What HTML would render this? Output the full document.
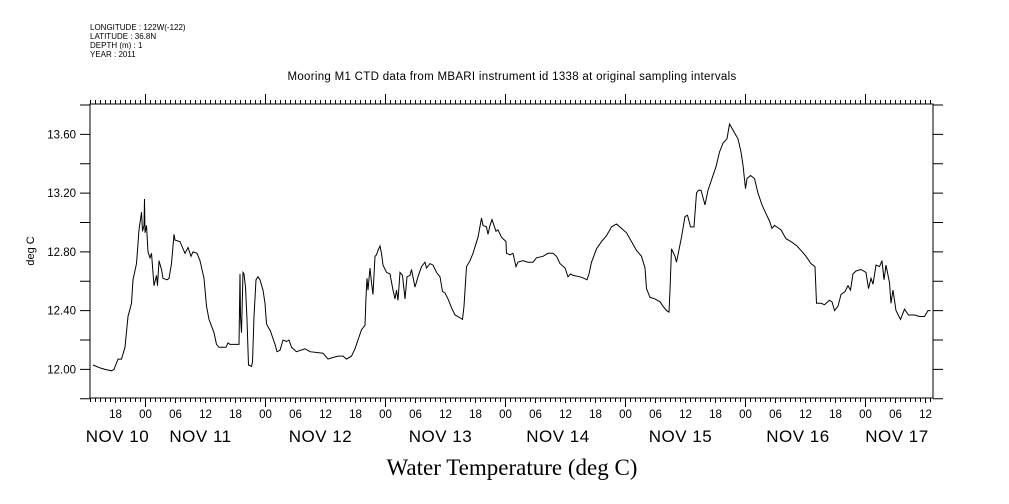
<!DOCTYPE html>
<html><head><meta charset="utf-8">
<style>
body{margin:0;background:#fff;}
svg{display:block;font-family:"Liberation Sans",sans-serif;}
</style></head><body>
<svg id="chart" width="1009" height="504" xmlns="http://www.w3.org/2000/svg">
<rect width="1009" height="504" fill="#fff"/>
<g font-size="8" fill="#000">
<text x="90" y="30">LONGITUDE : 122W(-122)</text>
<text x="90" y="39">LATITUDE : 36.8N</text>
<text x="90" y="48">DEPTH (m) : 1</text>
<text x="90" y="57">YEAR : 2011</text>
</g>
<text x="512" y="80" font-size="11.5" text-anchor="middle" letter-spacing="0.3">Mooring M1 CTD data from MBARI instrument id 1338 at original sampling intervals</text>
<text transform="translate(34,251) rotate(-90)" font-size="11" text-anchor="middle">deg C</text>
<text x="512" y="475" font-size="23" text-anchor="middle" font-family="'Liberation Serif',serif">Water Temperature (deg C)</text>
<g id="axes"></g>
<g id="series"></g>
</svg>
<script>
const hours=[-10.5,-9.1,-8.1,-6.8,-6.3,-5.5,-4.8,-4.1,-3.5,-2.8,-2.5,-1.8,-1.3,-0.8,-0.6,-0.3,-0.2,-0.1,0.2,0.5,0.9,1.2,1.7,2.2,2.4,2.7,3.2,3.5,4.3,4.7,5.2,5.7,5.9,6.9,7.9,8.5,9.1,9.5,10.3,10.9,11.7,12.2,12.7,13.7,14.2,14.7,16.1,16.5,16.9,18.7,18.9,19.0,19.2,19.5,19.7,20.0,20.3,20.6,21.2,21.4,21.7,22.1,22.5,22.9,23.5,23.9,24.2,24.5,25.0,25.4,25.9,26.3,26.9,27.5,28.2,28.7,29.2,30.2,31.9,32.9,35.5,36.5,37.4,38.5,39.5,40.2,41.2,41.9,42.5,43.2,43.9,44.1,44.3,44.5,44.9,45.2,45.5,45.9,46.2,46.5,46.9,47.2,47.5,48.2,48.9,49.5,49.9,50.2,50.5,50.9,51.4,51.9,52.3,52.9,53.2,53.9,54.5,55.2,55.9,56.2,56.9,57.5,58.2,58.9,59.4,59.9,60.5,61.2,61.9,62.5,63.4,63.7,64.2,64.9,65.5,66.5,67.2,67.5,68.2,68.5,68.9,69.3,70.1,70.5,71.2,72.1,72.2,72.9,73.5,74.1,74.5,75.5,76.5,77.5,78.2,79.5,80.5,81.5,82.2,82.9,83.9,84.5,85.0,85.5,86.9,87.7,88.3,88.7,89.2,90.2,91.2,92.2,93.2,94.2,95.2,96.2,97.2,98.2,99.2,99.9,100.2,100.9,101.9,102.9,103.5,104.2,104.7,104.9,105.2,105.9,106.2,107.2,107.9,108.4,109.0,109.7,110.2,110.6,111.1,111.9,112.5,113.5,114.1,114.8,115.5,116.3,116.8,117.5,117.8,118.5,119.1,119.5,120.0,120.3,121.0,121.8,122.5,123.3,124.1,124.8,125.3,125.8,127.1,128.1,129.1,130.3,131.1,132.1,133.1,133.9,134.2,135.1,135.8,136.8,137.3,137.8,138.5,139.1,139.9,140.5,141.0,141.5,142.1,143.1,144.1,144.6,145.1,145.5,146.1,146.8,147.3,147.7,148.1,148.8,149.1,149.5,150.1,151.0,151.8,152.6,153.8,154.8,155.8,156.5,157.0];
const temps=[12.03,12.01,12.00,11.99,12.00,12.07,12.07,12.15,12.36,12.45,12.61,12.72,12.95,13.07,12.94,12.98,13.16,12.93,12.98,12.80,12.76,12.79,12.57,12.64,12.57,12.74,12.68,12.62,12.61,12.62,12.72,12.92,12.88,12.87,12.79,12.83,12.77,12.80,12.79,12.74,12.62,12.43,12.34,12.25,12.17,12.15,12.15,12.18,12.17,12.17,12.65,12.36,12.25,12.66,12.65,12.56,12.34,12.03,12.02,12.05,12.36,12.61,12.63,12.61,12.54,12.45,12.31,12.29,12.26,12.22,12.17,12.12,12.13,12.20,12.19,12.20,12.15,12.12,12.14,12.12,12.11,12.07,12.08,12.09,12.09,12.07,12.09,12.14,12.20,12.27,12.30,12.49,12.62,12.54,12.69,12.59,12.51,12.77,12.78,12.81,12.84,12.79,12.71,12.66,12.65,12.54,12.48,12.54,12.47,12.66,12.64,12.48,12.63,12.64,12.68,12.56,12.63,12.70,12.73,12.69,12.72,12.71,12.66,12.63,12.53,12.52,12.48,12.42,12.37,12.36,12.34,12.43,12.70,12.74,12.79,12.90,13.03,12.98,12.97,12.92,12.98,13.02,12.94,12.95,12.90,12.87,12.79,12.78,12.79,12.70,12.73,12.74,12.73,12.73,12.76,12.77,12.79,12.79,12.77,12.72,12.69,12.63,12.65,12.64,12.63,12.62,12.61,12.65,12.73,12.82,12.87,12.91,12.97,12.99,12.96,12.93,12.87,12.81,12.77,12.69,12.55,12.49,12.48,12.46,12.43,12.40,12.39,12.54,12.82,12.77,12.73,12.90,13.04,13.05,12.97,12.97,13.20,13.22,13.22,13.12,13.22,13.32,13.38,13.48,13.54,13.57,13.67,13.63,13.61,13.57,13.48,13.39,13.23,13.30,13.32,13.30,13.20,13.12,13.06,13.01,12.96,12.98,12.95,12.89,12.87,12.84,12.81,12.77,12.72,12.70,12.45,12.45,12.44,12.47,12.46,12.40,12.43,12.51,12.53,12.57,12.54,12.65,12.67,12.68,12.66,12.55,12.62,12.58,12.71,12.70,12.74,12.61,12.71,12.59,12.45,12.54,12.40,12.34,12.41,12.37,12.37,12.36,12.36,12.40,12.40];
const yTicks=[11.8,12.0,12.2,12.4,12.6,12.8,13.0,13.2,13.4,13.6,13.8];
const yLabels=["12.00","12.40","12.80","13.20","13.60"];
const dayLabels=["NOV 10","NOV 11","NOV 12","NOV 13","NOV 14","NOV 15","NOV 16","NOV 17"];
const dayLabelHours=[-5.6,11,35,59,82.5,107,130.5,150.3];

const L=90,R=933,T=104,B=398;
const X0=-11.1,X1=157.5,Y0=11.805,Y1=13.807;
const xs=h=>L+(h-X0)/(X1-X0)*(R-L);
const ys=v=>B-(v-Y0)/(Y1-Y0)*(B-T);
const NS="http://www.w3.org/2000/svg";
const axes=document.getElementById('axes');
function mk(tag,attrs,parent){const e=document.createElementNS(NS,tag);for(const k in attrs)e.setAttribute(k,attrs[k]);parent.appendChild(e);return e;}
const frame=mk('rect',{x:L,y:T,width:R-L,height:B-T,fill:'none',stroke:'#000','stroke-width':1},axes);


let tp='';
for(const v of yTicks){const y=ys(v);tp+=`M${L-10},${y}H${L}M${R},${y}H${R+10}`;}
for(let h=Math.ceil(X0);h<=X1;h++){const x=xs(h);const day=((h%24)+24)%24===0;const six=h%6===0;
 const lb=day?9:(six?5:4);tp+=`M${x},${B}V${B+lb}M${x},${T}V${T-(day?10:4)}`;}
const ticks=mk('path',{d:tp,stroke:'#000','stroke-width':1,fill:'none'},axes);


for(const s of yLabels){const t=mk('text',{x:76,y:ys(parseFloat(s))+4,'font-size':11.5,'text-anchor':'end'},axes);t.textContent=s;
 
 }
for(let h=Math.ceil(X0/6)*6;h<=X1;h+=6){const t=mk('text',{x:xs(h),y:418,'font-size':11.5,'text-anchor':'middle'},axes);
 const hh=((h%24)+24)%24;t.textContent=String(hh).padStart(2,'0');
 
 }
dayLabels.forEach((s,i)=>{const t=mk('text',{x:xs(dayLabelHours[i]),y:442,'font-size':17,'text-anchor':'middle','letter-spacing':0.5},axes);t.textContent=s;
 
 });
const d=hours.map((h,i)=>(i?'L':'M')+xs(h).toFixed(1)+','+ys(temps[i]).toFixed(1)).join('');
const line=mk('path',{d:d,stroke:'#000','stroke-width':1,fill:'none','stroke-linejoin':'miter'},document.getElementById('series'));


</script>
</body></html>
